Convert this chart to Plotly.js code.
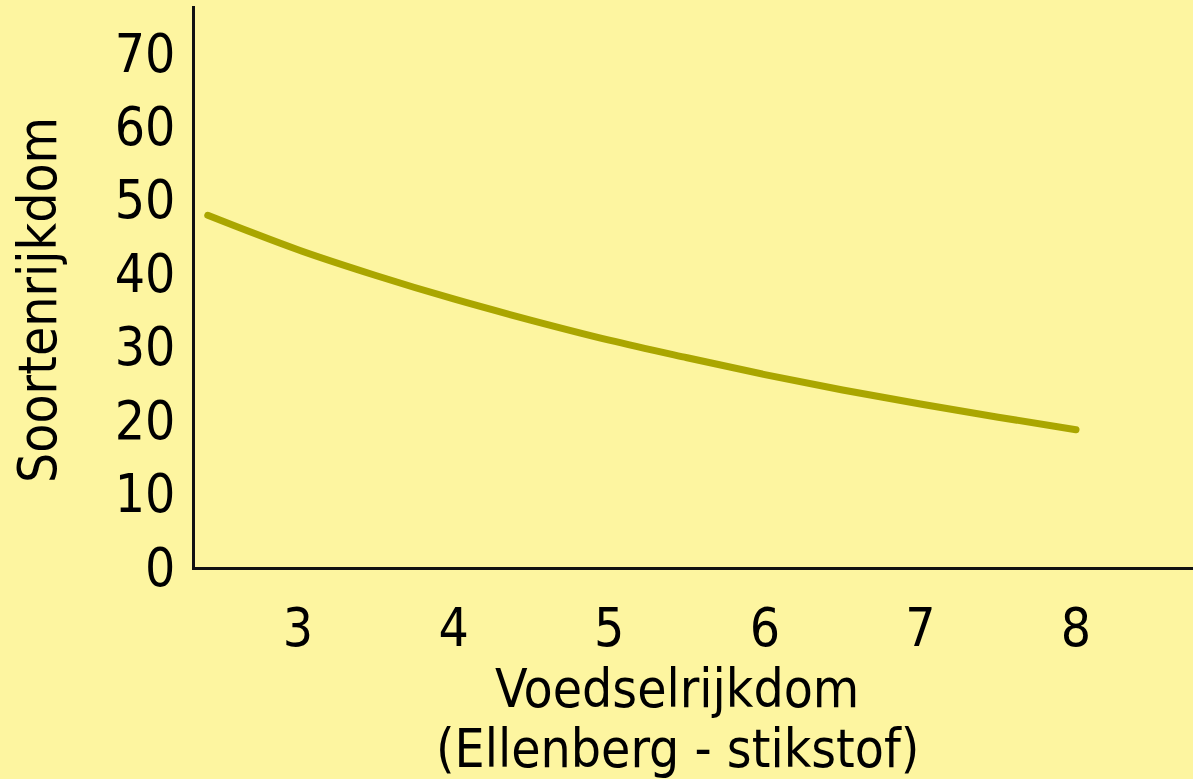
<!DOCTYPE html>
<html>
<head>
<meta charset="utf-8">
<script src="https://cdn.plot.ly/plotly-3.0.1.min.js"></script>
<style>html,body{margin:0;padding:0;background:#FDF5A0;}#chart{width:1193px;height:779px;}
.js-line{stroke-linecap:round;stroke-linejoin:round;}</style>
</head>
<body>
<div id="chart"></div>
<script>
const nitrogen = [2.42, 3, 3.5, 4, 4.5, 5, 5.5, 6, 6.5, 7, 7.5, 8];
const richness = [47.9, 43.2, 39.7, 36.5, 33.6, 30.9, 28.5, 26.2, 24.1, 22.2, 20.4, 18.7];
const xTicks = [3, 4, 5, 6, 7, 8];
const yTicks = [0, 10, 20, 30, 40, 50, 60, 70];
const xTitleLines = ['Voedselrijkdom', '(Ellenberg - stikstof)'];
const yTitle = 'Soortenrijkdom';

const font = 'DejaVu Sans Condensed, DejaVu Sans, sans-serif';
const FS = 53;
const data = [{
  x: nitrogen, y: richness, type: 'scatter', mode: 'lines',
  line: {color: '#AAA600', width: 7, shape: 'spline'},
  hoverinfo: 'skip'
}];
const plotL = 195, plotR = 1193, plotT = 6, plotB = 567;
const px = v => (v - plotL) / (plotR - plotL);
const py = v => (plotB - v) / (plotB - plotT);
const layout = {
  width: 1193, height: 779,
  paper_bgcolor: '#FDF5A0', plot_bgcolor: '#FDF5A0',
  margin: {l: plotL, r: 1193 - plotR, t: plotT, b: 779 - plotB},
  showlegend: false,
  font: {family: font, color: '#000', size: FS},
  xaxis: {
    range: [2.338, 8.752], tickvals: xTicks, ticktext: xTicks.map(String),
    showgrid: false, zeroline: false, showline: true, linecolor: '#111', linewidth: 3,
    ticks: '', ticklabelstandoff: 12, tickfont: {size: FS}
  },
  yaxis: {
    range: [0, 76.4], tickvals: yTicks, ticktext: yTicks.map(String),
    showgrid: false, zeroline: false, showline: true, linecolor: '#111', linewidth: 3,
    ticks: '', ticklabelstandoff: 6, tickfont: {size: FS}
  },
  annotations: [
    {text: xTitleLines[0], xref: 'paper', yref: 'paper', x: px(677), y: py(688),
     xanchor: 'center', yanchor: 'middle', showarrow: false, font: {size: FS}},
    {text: xTitleLines[1], xref: 'paper', yref: 'paper', x: px(677), y: py(748),
     xanchor: 'center', yanchor: 'middle', showarrow: false, font: {size: FS}},
    {text: yTitle, xref: 'paper', yref: 'paper', x: px(37), y: py(300), textangle: -90,
     xanchor: 'center', yanchor: 'middle', showarrow: false, font: {size: FS}}
  ]
};
Plotly.newPlot('chart', data, layout, {staticPlot: true});
</script>
</body>
</html>
